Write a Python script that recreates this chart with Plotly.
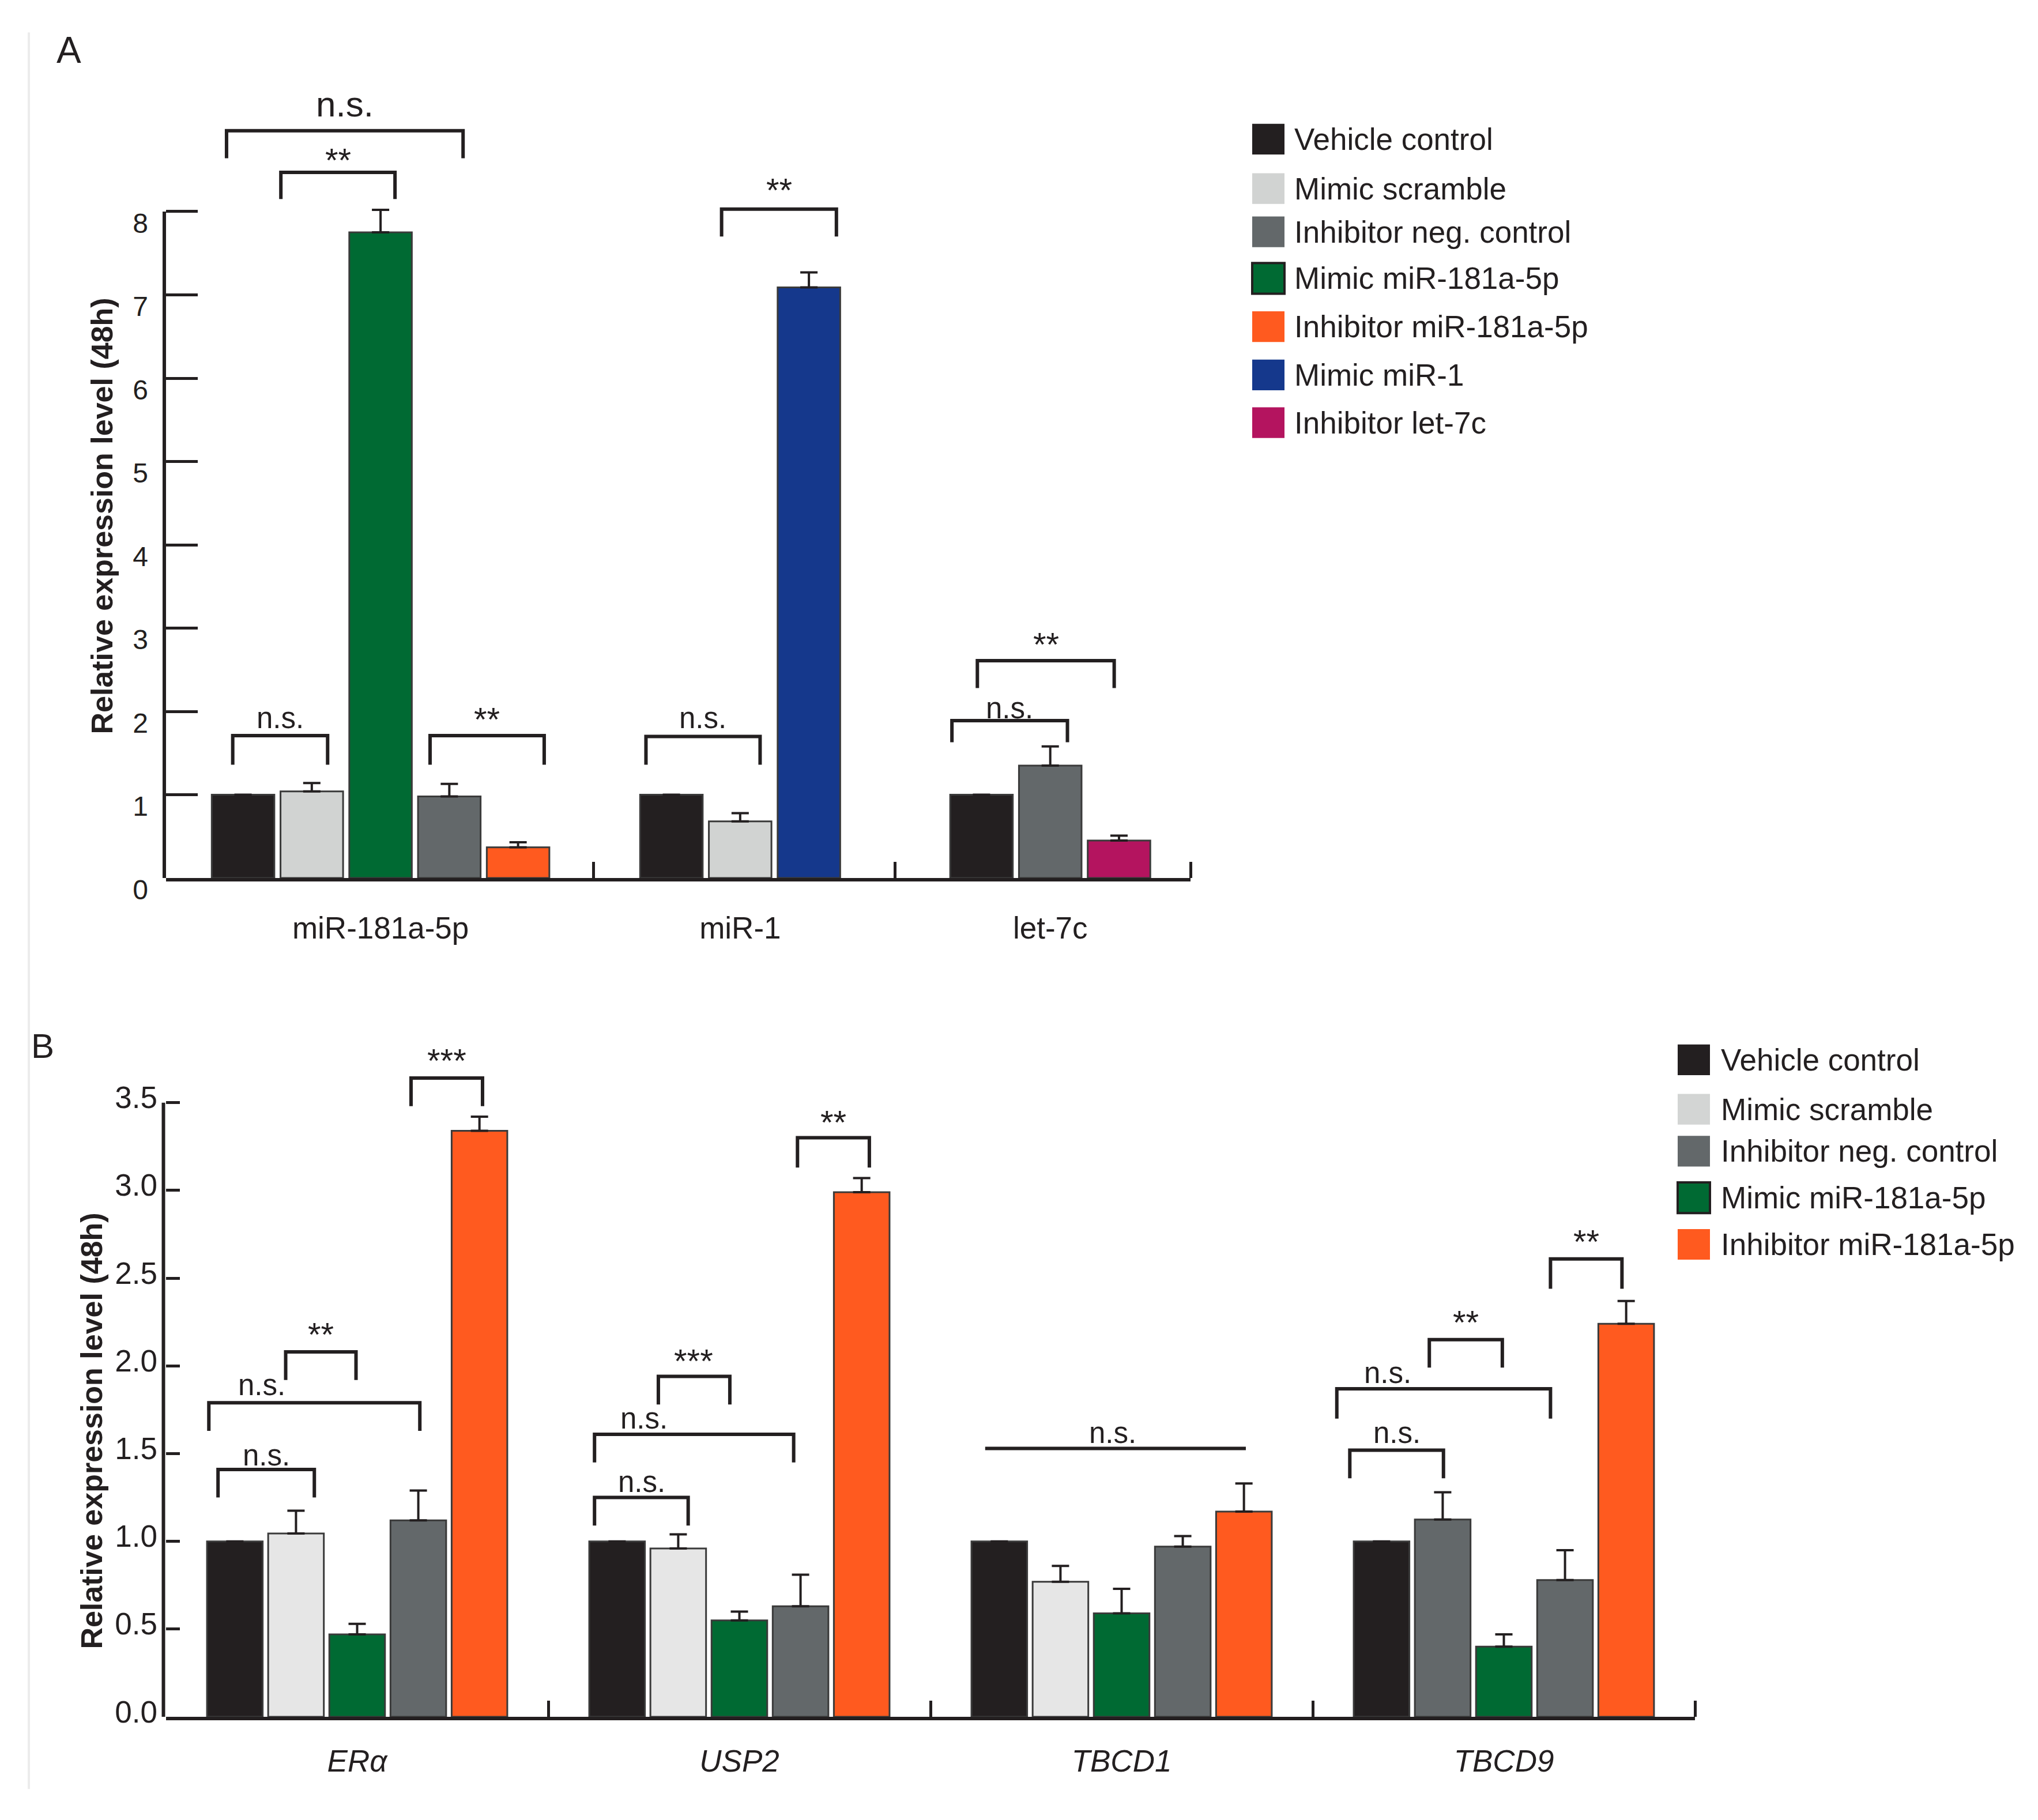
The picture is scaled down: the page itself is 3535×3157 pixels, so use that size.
import plotly.graph_objects as go

W, H = 3535, 3157
FONT = "Liberation Sans, Arial, Helvetica, sans-serif"
INK = "#231f20"
OUTLINE = "#3a3a3a"

# ---------------- panel A: miRNA expression ----------------
a_groups = ["miR-181a-5p", "miR-1", "let-7c"]
a_members = [
    ["Vehicle control", "Mimic scramble", "Mimic miR-181a-5p",
     "Inhibitor neg. control", "Inhibitor miR-181a-5p"],
    ["Vehicle control", "Mimic scramble", "Mimic miR-1"],
    ["Vehicle control", "Inhibitor neg. control", "Inhibitor let-7c"],
]
a_values = [
    [1.00, 1.04, 7.75, 0.98, 0.37],
    [1.00, 0.68, 7.09],
    [1.00, 1.35, 0.45],
]
a_errors = [
    [None, 0.10, 0.27, 0.15, 0.06],
    [None, 0.10, 0.18],
    [None, 0.23, 0.06],
]
a_legend = ["Vehicle control", "Mimic scramble", "Inhibitor neg. control",
            "Mimic miR-181a-5p", "Inhibitor miR-181a-5p", "Mimic miR-1",
            "Inhibitor let-7c"]
# (x0, x1, top, leg end, label, label x, label y)
a_brackets = [
    (0.88, 4.32, 8.97, 8.64, "n.s.", 2.60, 9.25),
    (1.67, 3.33, 8.47, 8.15, "**", 2.50, 8.64),
    (0.97, 2.35, 1.71, 1.36, "n.s.", 1.66, 1.88),
    (3.84, 5.50, 1.71, 1.36, "**", 4.67, 1.93),
    (6.98, 8.64, 1.70, 1.36, "n.s.", 7.81, 1.88),
    (8.08, 9.75, 8.03, 7.70, "**", 8.92, 8.28),
    (11.43, 13.11, 1.89, 1.63, "n.s.", 12.27, 2.00),
    (11.80, 13.79, 2.61, 2.28, "**", 12.80, 2.83),
]

# ---------------- panel B: target genes ----------------
b_genes = ["ERα", "USP2", "TBCD1", "TBCD9"]
b_order = ["Vehicle control", "Mimic scramble", "Mimic miR-181a-5p",
           "Inhibitor neg. control", "Inhibitor miR-181a-5p"]
b_vehicle = [1.00, 1.00, 1.00, 1.00]
b_scramble = [1.045, 0.96, 0.77, 1.125]
b_mimic = [0.47, 0.55, 0.59, 0.40]
b_negctrl = [1.12, 0.63, 0.97, 0.78]
b_inhib = [3.34, 2.99, 1.17, 2.24]
b_scramble_err = [0.13, 0.08, 0.09, 0.155]
b_mimic_err = [0.06, 0.05, 0.14, 0.07]
b_negctrl_err = [0.17, 0.18, 0.06, 0.17]
b_inhib_err = [0.08, 0.08, 0.16, 0.13]
b_legend = ["Vehicle control", "Mimic scramble", "Inhibitor neg. control",
            "Mimic miR-181a-5p", "Inhibitor miR-181a-5p"]
b_brackets = [
    (-0.364, -0.112, 1.41, 1.25, "n.s.", -0.238, 1.47),
    (-0.388, 0.164, 1.79, 1.63, "n.s.", -0.25, 1.87),
    (-0.187, -0.003, 2.08, 1.92, "**", -0.095, 2.19),
    (0.141, 0.328, 3.64, 3.48, "***", 0.235, 3.75),
    (0.621, 0.866, 1.25, 1.09, "n.s.", 0.745, 1.32),
    (0.621, 1.142, 1.61, 1.45, "n.s.", 0.75, 1.68),
    (0.788, 0.975, 1.94, 1.78, "***", 0.88, 2.04),
    (1.152, 1.340, 3.30, 3.13, "**", 1.246, 3.40),
    (1.643, 2.325, 1.53, 1.53, "n.s.", 1.977, 1.60),
    (2.597, 2.842, 1.52, 1.36, "n.s.", 2.72, 1.60),
    (2.563, 3.122, 1.87, 1.70, "n.s.", 2.696, 1.94),
    (2.805, 2.996, 2.15, 1.99, "**", 2.90, 2.26),
    (3.122, 3.309, 2.61, 2.44, "**", 3.215, 2.72),
]

COLORS = {
    "Vehicle control": "#231f20",
    "Mimic scramble": "#d1d3d2",
    "Inhibitor neg. control": "#63686a",
    "Mimic miR-181a-5p": "#006a33",
    "Inhibitor miR-181a-5p": "#ff5a1f",
    "Mimic miR-1": "#15388c",
    "Inhibitor let-7c": "#b4145f",
}

# layout of panel A along its numeric x axis (bar pitch = 1)
A_FIRST = [1.12, 7.35, 11.86]
A_DIVIDERS = [6.22, 10.6, 14.9]
A_XMAX = 14.9
A_YMAX, B_YMAX = 9.6, 3.9
A_ZERO, A_UNIT = 1546, 146.7      # pixel row of y=0 and pixels per unit
B_ZERO, B_UNIT = 3023, 309.0


def px_x(p):
    # pixel column -> paper fraction (page body has an 8px margin)
    return (p - 8) / W


def px_y(p):
    return 1 - (p - 8) / H


fig = go.Figure()

# --- A bars
for name in a_legend:
    xs, ys, es = [], [], []
    for g, m in enumerate(a_members):
        if name in m:
            i = m.index(name)
            xs.append(A_FIRST[g] + i)
            ys.append(a_values[g][i])
            es.append(a_errors[g][i])
    fig.add_trace(go.Bar(
        x=xs, y=ys, width=0.91, offset=-0.455, name=name,
        marker=dict(color=COLORS[name], line=dict(color=OUTLINE, width=3)),
        error_y=dict(type="data", symmetric=False, array=es,
                     arrayminus=[0] * len(es), color=INK, thickness=4, width=15),
        xaxis="x", yaxis="y", showlegend=False))
a_centers = [f + (len(m) - 1) / 2 for f, m in zip(A_FIRST, a_members)]

# --- B bars: five per gene
b_vals = [b_vehicle, b_scramble, b_mimic, b_negctrl, b_inhib]
b_errs = [[None] * 4, b_scramble_err, b_mimic_err, b_negctrl_err, b_inhib_err]
for j, name in enumerate(b_order):
    if name == "Mimic scramble":
        col = ["#e6e6e6", "#e6e6e6", "#e6e6e6", "#63686a"]
    else:
        col = COLORS[name]
    fig.add_trace(go.Bar(
        x=[g - 0.32 + 0.16 * j for g in range(len(b_genes))], y=b_vals[j],
        width=0.1456, offset=-0.0728, name=name,
        marker=dict(color=col, line=dict(color=OUTLINE, width=3)),
        error_y=dict(type="data", symmetric=False, array=b_errs[j],
                     arrayminus=[0] * 4, color=INK, thickness=4, width=15),
        xaxis="x2", yaxis="y2", showlegend=False))

# --- significance brackets
annotations = []
for brackets, xa, ya in [(a_brackets, "x", "y"), (b_brackets, "x2", "y2")]:
    bx, by = [], []
    for x0, x1, top, leg, label, lx, ly in brackets:
        bx += [x0, x0, x1, x1, None]
        by += [leg, top, top, leg, None]
        star = "*" in label
        big = xa == "x" and ly > 9
        annotations.append(dict(
            x=lx, y=ly, xref=xa, yref=ya, text=label, showarrow=False,
            xanchor="center", yanchor="middle", yshift=-3 if star else 6,
            font=dict(family=FONT, size=62 if big else (58 if star else 51),
                      color=INK)))
    fig.add_trace(go.Scatter(
        x=bx, y=by, mode="lines", line=dict(color=INK, width=6),
        hoverinfo="skip", showlegend=False, xaxis=xa, yaxis=ya))

# --- hand-drawn legends (large square keys)
shapes = []
for names, sq_x, txt_x, rows, scr in [
        (a_legend, 2172, 2243, [245, 332, 408, 490, 575, 660, 744], "#d1d3d2"),
        (b_legend, 2910, 2983, [1866, 1953, 2027, 2109, 2191], "#d3d5d4")]:
    for name, cy in zip(names, rows):
        shapes.append(dict(
            type="rect", xref="paper", yref="paper",
            x0=px_x(sq_x), x1=px_x(sq_x + 56),
            y0=px_y(cy + 27), y1=px_y(cy - 27),
            fillcolor=scr if name == "Mimic scramble" else COLORS[name],
            line=dict(color=INK if name == "Mimic miR-181a-5p" else "rgba(0,0,0,0)",
                      width=4)))
        annotations.append(dict(
            x=px_x(txt_x), y=px_y(cy), xref="paper", yref="paper",
            text=name, showarrow=False, xanchor="left", yanchor="middle",
            font=dict(family=FONT, size=53, color=INK)))

# y axis lines stop at the top tick (8 and 3.5), brackets live above them
for xa, ya, top, ymax in [("x", "y", 8, A_YMAX), ("x2", "y2", 3.5, B_YMAX)]:
    shapes.append(dict(type="line", xref=xa + " domain", yref=ya + " domain",
                       x0=-0.0017, x1=-0.0017, y0=0, y1=top / ymax,
                       line=dict(color=INK, width=6)))

# faint left rule of the figure frame
shapes.append(dict(type="line", xref="paper", yref="paper",
                   x0=px_x(50), x1=px_x(50), y0=px_y(57), y1=px_y(3150),
                   line=dict(color="#ececec", width=4)))

# panel letters and y titles
for txt, x, y, size in [("A", 119, 88, 64), ("B", 74, 1842, 60)]:
    annotations.append(dict(x=px_x(x), y=px_y(y), xref="paper", yref="paper",
                            text=txt, showarrow=False,
                            xanchor="center", yanchor="middle",
                            font=dict(family=FONT, size=size, color=INK)))
for x, y in [(177, 909), (159, 2520)]:
    annotations.append(dict(x=px_x(x), y=px_y(y), xref="paper", yref="paper",
                            text="<b>Relative expression level (48h)</b>",
                            textangle=-90, showarrow=False,
                            xanchor="center", yanchor="middle",
                            font=dict(family=FONT, size=52, color=INK)))

xline = dict(showgrid=False, zeroline=False, showline=True,
             linecolor=INK, linewidth=6)
yline = dict(showgrid=False, zeroline=False, showline=False)

b_ticks = [0.5 * k for k in range(8)]

fig.update_layout(
    width=W, height=H, margin=dict(l=0, r=0, t=0, b=0),
    paper_bgcolor="white", plot_bgcolor="white",
    barmode="overlay", showlegend=False,
    font=dict(family=FONT, color=INK),
    xaxis=dict(domain=[px_x(288), px_x(2065)], range=[0, A_XMAX], anchor="y",
               tickmode="array", tickvals=a_centers, ticktext=a_groups,
               ticks="", ticklabelstandoff=35,
               tickfont=dict(family=FONT, size=53, color=INK),
               minor=dict(tickmode="array", tickvals=A_DIVIDERS, ticks="inside",
                          ticklen=28, tickwidth=5, tickcolor=INK, showgrid=False),
               **xline),
    yaxis=dict(domain=[px_y(A_ZERO), px_y(A_ZERO - A_UNIT * A_YMAX)],
               range=[0, A_YMAX], anchor="x",
               tickmode="array", tickvals=list(range(9)),
               ticks="inside", ticklen=55, tickwidth=5, tickcolor=INK,
               ticklabelstandoff=30, ticklabelshift=20,
               tickfont=dict(family=FONT, size=48, color=INK),
               **yline),
    xaxis2=dict(domain=[px_x(288), px_x(2940)], range=[-0.5, len(b_genes) - 0.5],
                anchor="y2", tickmode="array", tickvals=list(range(len(b_genes))),
                ticktext=["<i>%s</i>" % g for g in b_genes],
                ticks="", ticklabelstandoff=25,
                tickfont=dict(family=FONT, size=53, color=INK),
                minor=dict(tickmode="array",
                           tickvals=[g + 0.5 for g in range(len(b_genes))],
                           ticks="inside", ticklen=28, tickwidth=5,
                           tickcolor=INK, showgrid=False),
                **xline),
    yaxis2=dict(domain=[px_y(B_ZERO), px_y(B_ZERO - B_UNIT * B_YMAX)],
                range=[0, B_YMAX], anchor="x2",
                tickmode="array", tickvals=b_ticks,
                ticktext=["%.1f" % t for t in b_ticks],
                ticks="inside", ticklen=24, tickwidth=5, tickcolor=INK,
                ticklabelstandoff=14, ticklabelshift=-9,
                tickfont=dict(family=FONT, size=53, color=INK),
                **yline),
    shapes=shapes,
    annotations=annotations,
)

fig.write_html("out.html")
